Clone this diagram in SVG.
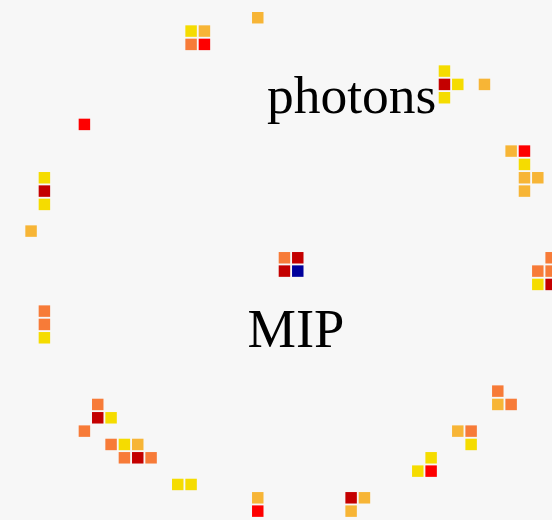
<svg xmlns="http://www.w3.org/2000/svg" width="552" height="520" viewBox="0 0 552 520">
  <style>
    .Y { fill: #F5DC00; }
    .A { fill: #F7B536; }
    .O { fill: #F77B38; }
    .R { fill: #FE0000; }
    .D { fill: #C40000; }
    .B { fill: #00009C; }
    .lbl { font-family: "Liberation Serif", "Times New Roman", serif; fill: #000; }
  </style>
  <rect width="552" height="520" fill="#F7F7F7"/>
  <!-- hit pixels on a 10-unit grid, scaled to the display pitch -->
  <g id="pixels" transform="translate(12 12) scale(1.3335)">
    <g id="ring-top">
      <rect class="Y" x="130" y="10" width="8.6" height="8.6"/>
      <rect class="A" x="140" y="10" width="8.6" height="8.6"/>
      <rect class="O" x="130" y="20" width="8.6" height="8.6"/>
      <rect class="R" x="140" y="20" width="8.6" height="8.6"/>
      <rect class="A" x="180" y="0" width="8.6" height="8.6"/>
      <rect class="Y" x="320" y="40" width="8.6" height="8.6"/>
      <rect class="D" x="320" y="50" width="8.6" height="8.6"/>
      <rect class="Y" x="330" y="50" width="8.6" height="8.6"/>
      <rect class="Y" x="320" y="60" width="8.6" height="8.6"/>
      <rect class="A" x="350" y="50" width="8.6" height="8.6"/>
    </g>
    <g id="ring-left">
      <rect class="R" x="50" y="80" width="8.6" height="8.6"/>
      <rect class="Y" x="20" y="120" width="8.6" height="8.6"/>
      <rect class="D" x="20" y="130" width="8.6" height="8.6"/>
      <rect class="Y" x="20" y="140" width="8.6" height="8.6"/>
      <rect class="A" x="10" y="160" width="8.6" height="8.6"/>
      <rect class="O" x="20" y="220" width="8.6" height="8.6"/>
      <rect class="O" x="20" y="230" width="8.6" height="8.6"/>
      <rect class="Y" x="20" y="240" width="8.6" height="8.6"/>
    </g>
    <g id="ring-right">
      <rect class="A" x="370" y="100" width="8.6" height="8.6"/>
      <rect class="R" x="380" y="100" width="8.6" height="8.6"/>
      <rect class="Y" x="380" y="110" width="8.6" height="8.6"/>
      <rect class="A" x="380" y="120" width="8.6" height="8.6"/>
      <rect class="A" x="390" y="120" width="8.6" height="8.6"/>
      <rect class="A" x="380" y="130" width="8.6" height="8.6"/>
      <rect class="O" x="400" y="180" width="8.6" height="8.6"/>
      <rect class="O" x="390" y="190" width="8.6" height="8.6"/>
      <rect class="O" x="400" y="190" width="8.6" height="8.6"/>
      <rect class="Y" x="390" y="200" width="8.6" height="8.6"/>
      <rect class="D" x="400" y="200" width="8.6" height="8.6"/>
    </g>
    <g id="mip-hit">
      <rect class="O" x="200" y="180" width="8.6" height="8.6"/>
      <rect class="D" x="210" y="180" width="8.6" height="8.6"/>
      <rect class="D" x="200" y="190" width="8.6" height="8.6"/>
      <rect class="B" x="210" y="190" width="8.6" height="8.6"/>
    </g>
    <g id="ring-bottom">
      <rect class="O" x="60" y="290" width="8.6" height="8.6"/>
      <rect class="D" x="60" y="300" width="8.6" height="8.6"/>
      <rect class="Y" x="70" y="300" width="8.6" height="8.6"/>
      <rect class="O" x="50" y="310" width="8.6" height="8.6"/>
      <rect class="O" x="70" y="320" width="8.6" height="8.6"/>
      <rect class="Y" x="80" y="320" width="8.6" height="8.6"/>
      <rect class="A" x="90" y="320" width="8.6" height="8.6"/>
      <rect class="O" x="80" y="330" width="8.6" height="8.6"/>
      <rect class="D" x="90" y="330" width="8.6" height="8.6"/>
      <rect class="O" x="100" y="330" width="8.6" height="8.6"/>
      <rect class="Y" x="120" y="350" width="8.6" height="8.6"/>
      <rect class="Y" x="130" y="350" width="8.6" height="8.6"/>
      <rect class="A" x="180" y="360" width="8.6" height="8.6"/>
      <rect class="R" x="180" y="370" width="8.6" height="8.6"/>
      <rect class="D" x="250" y="360" width="8.6" height="8.6"/>
      <rect class="A" x="260" y="360" width="8.6" height="8.6"/>
      <rect class="A" x="250" y="370" width="8.6" height="8.6"/>
      <rect class="Y" x="310" y="330" width="8.6" height="8.6"/>
      <rect class="Y" x="300" y="340" width="8.6" height="8.6"/>
      <rect class="R" x="310" y="340" width="8.6" height="8.6"/>
      <rect class="A" x="330" y="310" width="8.6" height="8.6"/>
      <rect class="O" x="340" y="310" width="8.6" height="8.6"/>
      <rect class="Y" x="340" y="320" width="8.6" height="8.6"/>
      <rect class="O" x="360" y="280" width="8.6" height="8.6"/>
      <rect class="A" x="360" y="290" width="8.6" height="8.6"/>
      <rect class="O" x="370" y="290" width="8.6" height="8.6"/>
    </g>
  </g>
  <g id="labels">
    <text class="lbl" x="267" y="113" font-size="53.5">photons</text>
    <text class="lbl" x="247.5" y="347" font-size="54.5">MIP</text>
  </g>
</svg>
